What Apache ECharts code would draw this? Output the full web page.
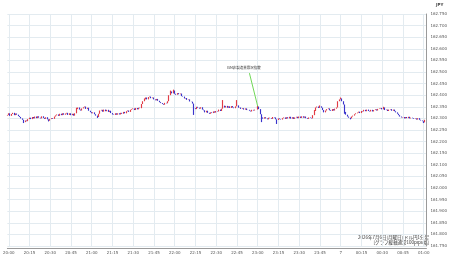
<!DOCTYPE html>
<html><head><meta charset="utf-8">
<script src="https://cdn.jsdelivr.net/npm/echarts@6/dist/echarts.min.js"></script>
<style>html,body{margin:0;padding:0;background:#fff}#c{width:450px;height:258px}</style>
</head><body><div id="c"></div>
<script>
const startTime = "19:59";
const closes = [
162.315,162.322,162.311,162.319,162.324,162.314,162.321,162.316,162.310,162.306,
162.300,162.294,162.284,162.291,162.288,162.297,162.303,162.297,162.306,162.300,
162.308,162.301,162.309,162.303,162.300,162.309,162.302,162.298,162.305,162.296,
162.290,162.297,162.301,162.298,162.308,162.313,162.317,162.311,162.320,162.314,
162.322,162.316,162.321,162.324,162.315,162.322,162.314,162.320,162.312,162.322,
162.340,162.347,162.338,162.334,162.343,162.348,162.351,162.341,162.346,162.333,
162.327,162.322,162.326,162.318,162.312,162.306,162.320,162.334,162.337,162.329,
162.338,162.331,162.337,162.328,162.333,162.323,162.317,162.315,162.322,162.316,
162.322,162.317,162.324,162.320,162.328,162.322,162.331,162.334,162.328,162.337,
162.340,162.343,162.336,162.345,162.339,162.346,162.344,162.362,162.374,162.382,
162.390,162.382,162.392,162.394,162.387,162.390,162.382,162.378,162.384,162.376,
162.370,162.366,162.362,162.359,162.367,162.365,162.374,162.400,162.416,162.408,
162.420,162.406,162.402,162.409,162.404,162.407,162.396,162.394,162.386,162.388,
162.380,162.382,162.373,162.372,162.364,162.344,162.340,162.350,162.346,162.342,
162.348,162.338,162.335,162.326,162.333,162.324,162.320,162.326,162.323,162.330,
162.325,162.332,162.330,162.338,162.332,162.342,162.355,162.347,162.354,162.346,
162.352,162.345,162.353,162.347,162.344,162.352,162.356,162.346,162.347,162.341,
162.344,162.338,162.343,162.336,162.337,162.333,162.330,162.337,162.334,162.338,
162.338,162.351,162.340,162.318,162.304,162.299,162.305,162.300,162.296,162.303,
162.301,162.298,162.306,162.304,162.296,162.293,162.300,162.297,162.295,162.301,
162.304,162.298,162.305,162.300,162.307,162.299,162.305,162.298,162.304,162.307,
162.301,162.308,162.302,162.309,162.303,162.308,162.301,162.298,162.304,162.302,
162.300,162.314,162.332,162.347,162.351,162.345,162.352,162.346,162.336,162.326,
162.334,162.340,162.343,162.335,162.332,162.340,162.334,162.342,162.347,162.374,
162.382,162.386,162.374,162.360,162.328,162.316,162.308,162.303,162.300,162.308,
162.312,162.318,162.322,162.325,162.329,162.323,162.332,162.330,162.337,162.331,
162.338,162.332,162.330,162.337,162.330,162.336,162.339,162.334,162.341,162.343,
162.345,162.339,162.347,162.336,162.338,162.332,162.338,162.340,162.333,162.338,
162.331,162.326,162.320,162.314,162.308,162.304,162.306,162.300,162.306,162.301,
162.307,162.300,162.303,162.301,162.298,162.300,162.295,162.301,162.294,162.291,
162.288,162.283,162.294,162.302
];
const firstOpen = 162.312;
const wickHigh = {50:162.346, 99:162.386, 118:162.420, 120:162.424, 156:162.379, 166:162.379, 181:162.354, 222:162.336, 226:162.356, 241:162.390, 272:162.350};
const wickLow = {12:162.280, 30:162.287, 65:162.302, 135:162.315, 184:162.284, 195:162.276, 244:162.320, 248:162.296, 301:162.280};
const yTicks = {min:161.75, max:162.75, step:0.05};
const eventLabel = "ISM非製造業景況指数";
const eventFrom = {idx:175, price:162.495};
const eventTo = {idx:181, price:162.352};
const eventText = {idx:171, price:162.517};
const footnote1 = "2026年7月6日(月曜日) ドル円1分足";
const footnote2 = "[グラフ縦軸通常100pips幅]";
const currency = "JPY";
const dayLabel = "7";

const cats = [];
{
  let [h, m] = startTime.split(':').map(Number);
  for (let i = 0; i < closes.length; i++) {
    cats.push(String(h).padStart(2,'0') + ':' + String(m).padStart(2,'0'));
    m++; if (m === 60) { m = 0; h = (h + 1) % 24; }
  }
}
const ohlc = closes.map((c, i) => {
  const o = i === 0 ? firstOpen : closes[i-1];
  let hi = Math.max(o, c), lo = Math.min(o, c);
  if (wickHigh[i] != null) hi = Math.max(hi, wickHigh[i]);
  if (wickLow[i] != null) lo = Math.min(lo, wickLow[i]);
  return [o, c, lo, hi];
});
const isQuarter = (i) => Number(cats[i].slice(3)) % 15 === 0;

const chart = echarts.init(document.getElementById('c'), null, {renderer:'canvas'});
const UP = '#e23c46', DOWN = '#3a34cc';
chart.setOption({
  animation: false,
  backgroundColor: '#ffffff',
  grid: {left: 0.3, right: 19.5, top: 14, bottom: 12},
  xAxis: {
    type: 'category', data: cats, boundaryGap: false, offset: 2,
    axisLine: {lineStyle: {color: '#9a9a9a', width: 1}},
    axisTick: {show: false},
    axisLabel: {interval: (i) => isQuarter(i), fontSize: 4, color: '#555', margin: 3,
      fontFamily: 'DejaVu Sans',
      formatter: (v) => v === '00:00' ? dayLabel : v},
    splitLine: {show: true, interval: (i) => isQuarter(i), lineStyle: {color: '#e3ebf0', width: 1}}
  },
  yAxis: {
    type: 'value', position: 'right', min: yTicks.min, max: yTicks.max, interval: yTicks.step,
    axisLine: {show: true, lineStyle: {color: '#9a9a9a', width: 1}},
    axisTick: {show: false},
    axisLabel: {fontSize: 4, color: '#555', margin: 4, fontFamily: 'DejaVu Sans',
      formatter: (v) => v.toFixed(3)},
    splitLine: {show: true, lineStyle: {color: '#e3ebf0', width: 1}}
  },
  series: [{
    type: 'candlestick', data: ohlc, barWidth: 1.3,
    itemStyle: {color: UP, color0: DOWN, borderColor: UP, borderColor0: DOWN, borderWidth: 1.15},
    markLine: {
      silent: true, symbol: ['none','none'], label: {show: false},
      lineStyle: {color: '#72d85a', width: 1, type: 'solid'},
      data: [[{coord: [eventFrom.idx, eventFrom.price]}, {coord: [eventTo.idx, eventTo.price]}]]
    },
    markPoint: {
      silent: true, symbol: 'circle', symbolSize: 1,
      itemStyle: {color: 'rgba(0,0,0,0)'},
      label: {show: true, formatter: eventLabel, fontSize: 3.5, color: '#333', position: 'inside',
        fontFamily: 'Noto Sans CJK JP'},
      data: [{coord: [eventText.idx, eventText.price]}]
    }
  }],
  graphic: [
    {type: 'text', left: 436, top: 3, style: {text: currency, fontSize: 4, fontWeight: 'bold', fill: '#444', fontFamily: 'DejaVu Sans'}},
    {type: 'text', right: 21, top: 235, style: {text: footnote1, fontSize: 4.5, fill: '#333', fontFamily: 'Noto Sans CJK JP'}},
    {type: 'text', right: 21, top: 240.5, style: {text: footnote2, fontSize: 4.5, fill: '#333', fontFamily: 'Noto Sans CJK JP'}}
  ]
});
</script></body></html>
